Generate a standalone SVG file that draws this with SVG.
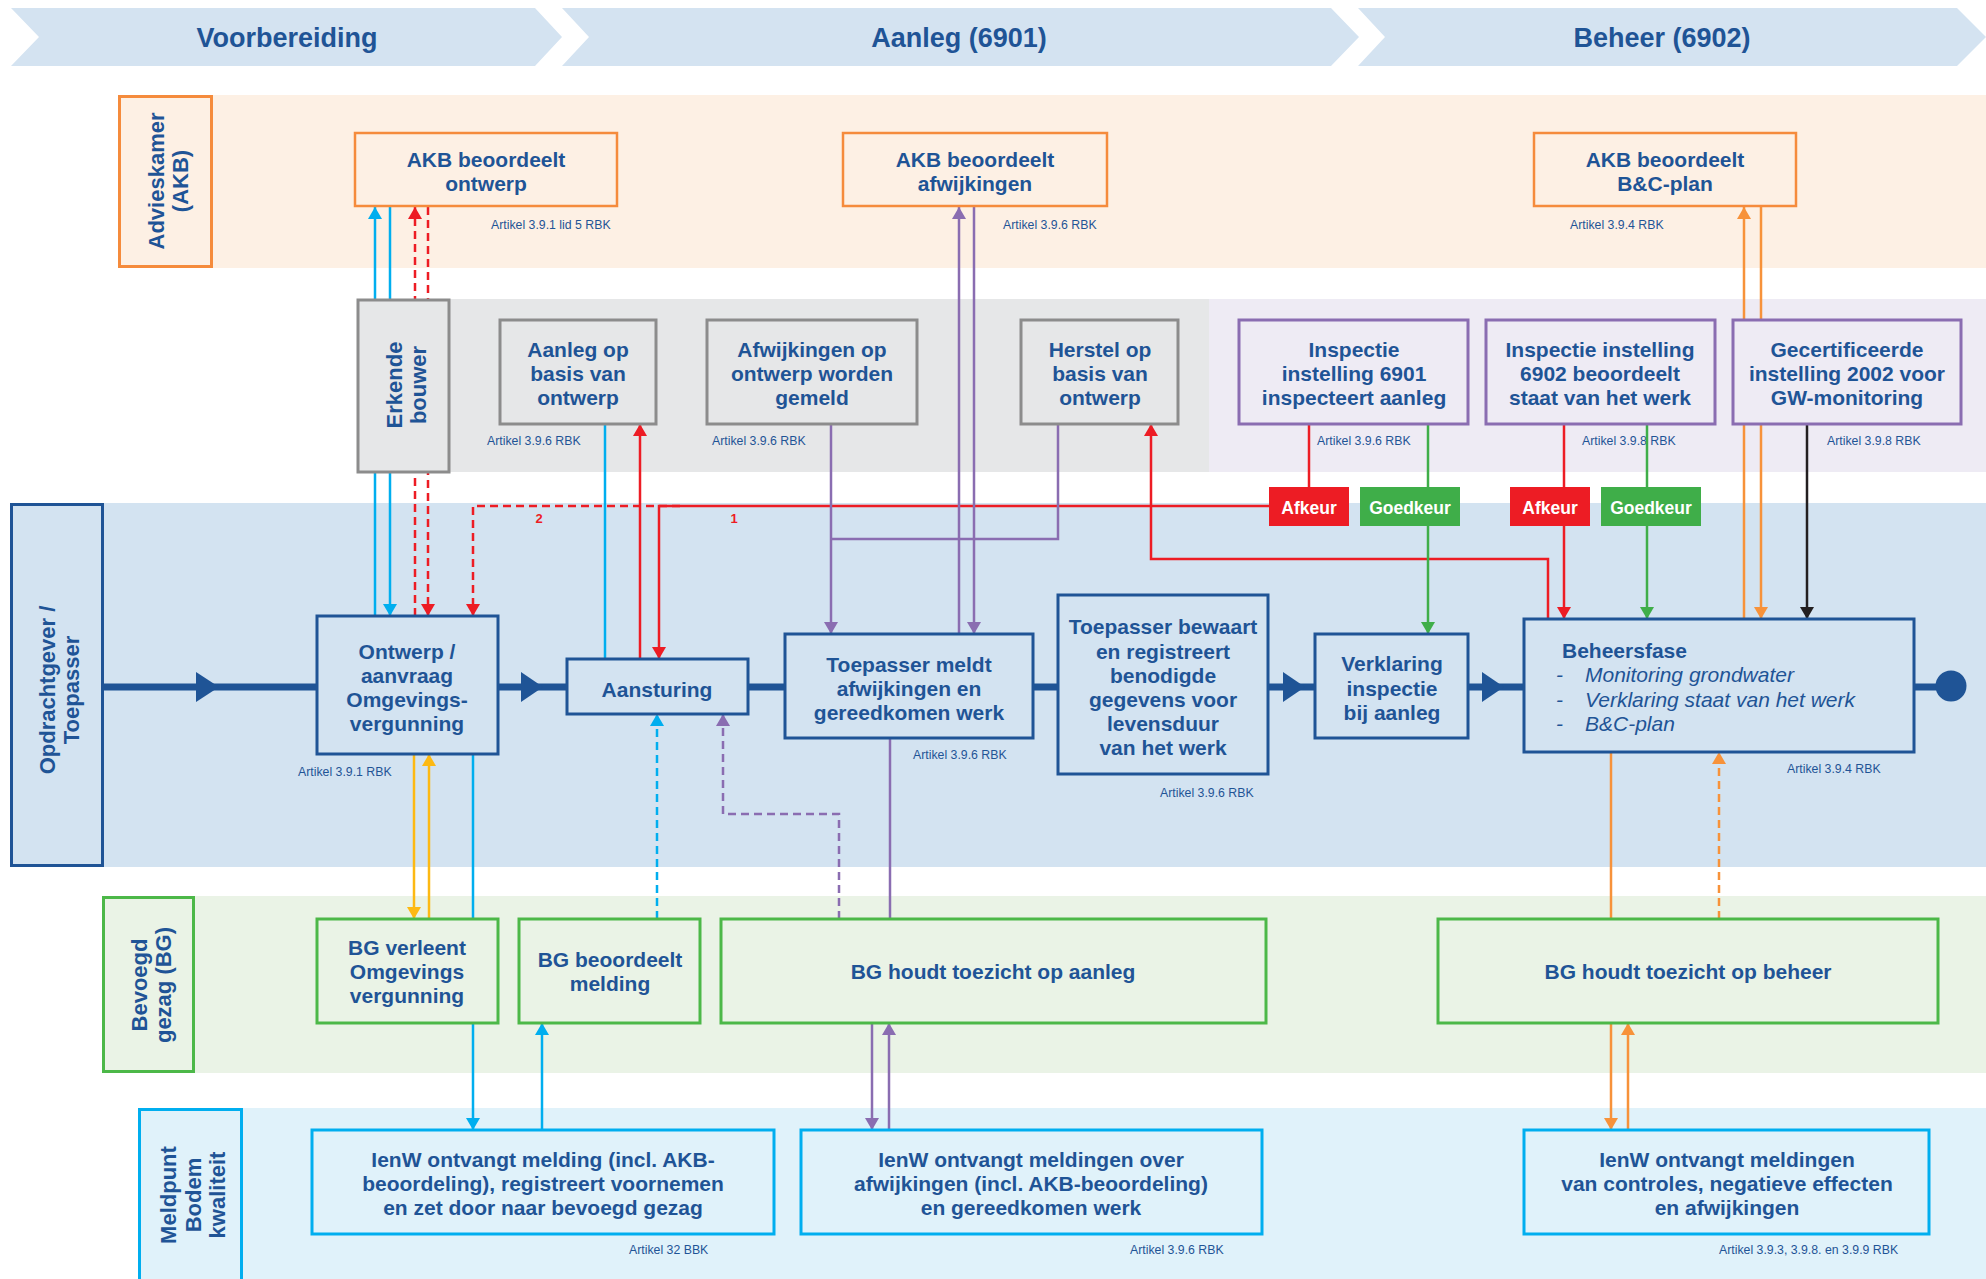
<svg xmlns="http://www.w3.org/2000/svg" width="1986" height="1279" viewBox="0 0 1986 1279">
<defs>
<style>
text{font-family:'Liberation Sans',Arial,sans-serif;fill:#1f5496}
.ph{font-size:27px;font-weight:bold;text-anchor:middle}
.lane{font-size:22px;font-weight:bold;text-anchor:middle}
.t{font-size:21px;font-weight:bold;text-anchor:middle}
.tl{font-size:21px;font-weight:bold}
.it{font-size:21px;font-style:italic}
.art{font-size:12.3px}
.bt{font-size:17.5px;font-weight:bold;fill:#ffffff;text-anchor:middle}
.num{font-size:13px;font-weight:bold;fill:#ed1c24;text-anchor:middle}
.c{fill:none;stroke-width:2.5}
.cy{stroke:#00aeef}
.rd{stroke:#ed1c24}
.pu{stroke:#8a6db1}
.gr{stroke:#3fae49}
.or{stroke:#f7923a}
.ye{stroke:#fdb913}
.bk{stroke:#231f20}
.d{stroke-dasharray:8 5}
.n-akb{fill:#fdf0e4;stroke:#f58b3c;stroke-width:2.5}
.n-gry{fill:#e6e7e8;stroke:#8c8c8c;stroke-width:3}
.n-lav{fill:#eeebf4;stroke:#8a6db1;stroke-width:3}
.n-main{fill:#d3e3f1;stroke:#1f5496;stroke-width:3}
.n-bg{fill:#eaf3e6;stroke:#4cb848;stroke-width:3}
.n-mp{fill:#e0f2fa;stroke:#00aeef;stroke-width:3}
</style>
<marker id="mc" markerUnits="userSpaceOnUse" markerWidth="12" markerHeight="14" viewBox="0 0 12 14" refX="12" refY="7" orient="auto"><path d="M0,0L12,7L0,14z" fill="#00aeef"/></marker>
<marker id="mr" markerUnits="userSpaceOnUse" markerWidth="12" markerHeight="14" viewBox="0 0 12 14" refX="12" refY="7" orient="auto"><path d="M0,0L12,7L0,14z" fill="#ed1c24"/></marker>
<marker id="mp" markerUnits="userSpaceOnUse" markerWidth="12" markerHeight="14" viewBox="0 0 12 14" refX="12" refY="7" orient="auto"><path d="M0,0L12,7L0,14z" fill="#8a6db1"/></marker>
<marker id="mg" markerUnits="userSpaceOnUse" markerWidth="12" markerHeight="14" viewBox="0 0 12 14" refX="12" refY="7" orient="auto"><path d="M0,0L12,7L0,14z" fill="#3fae49"/></marker>
<marker id="mo" markerUnits="userSpaceOnUse" markerWidth="12" markerHeight="14" viewBox="0 0 12 14" refX="12" refY="7" orient="auto"><path d="M0,0L12,7L0,14z" fill="#f7923a"/></marker>
<marker id="my" markerUnits="userSpaceOnUse" markerWidth="12" markerHeight="14" viewBox="0 0 12 14" refX="12" refY="7" orient="auto"><path d="M0,0L12,7L0,14z" fill="#fdb913"/></marker>
<marker id="mk" markerUnits="userSpaceOnUse" markerWidth="12" markerHeight="14" viewBox="0 0 12 14" refX="12" refY="7" orient="auto"><path d="M0,0L12,7L0,14z" fill="#231f20"/></marker>
</defs>

<rect width="1986" height="1279" fill="#ffffff"/>

<g id="phases">
<polygon points="11,8 535,8 562,37 535,66 11,66 39,37" fill="#d4e3f1"/>
<polygon points="562,8 1331,8 1359,37 1331,66 562,66 589,37" fill="#d4e3f1"/>
<polygon points="1358,8 1957,8 1986,37 1957,66 1358,66 1385,37" fill="#d4e3f1"/>
<text class="ph" x="287" y="47">Voorbereiding</text>
<text class="ph" x="959" y="47">Aanleg (6901)</text>
<text class="ph" x="1662" y="47">Beheer (6902)</text>
</g>

<g id="lanes">
<rect x="212" y="95" width="1774" height="173" fill="#fdf0e4"/>
<rect x="357" y="299" width="852" height="173" fill="#e6e7e8"/>
<rect x="1209" y="299" width="777" height="173" fill="#eeebf4"/>
<rect x="103" y="503" width="1883" height="364" fill="#d3e3f1"/>
<rect x="194" y="896" width="1792" height="177" fill="#eaf3e6"/>
<rect x="242" y="1108" width="1744" height="171" fill="#e0f2fa"/>
<rect x="119.5" y="96.5" width="92" height="170" fill="#fdf0e4" stroke="#f58b3c" stroke-width="3"/>
<rect x="11.5" y="504.5" width="91" height="361" fill="#d3e3f1" stroke="#1f5496" stroke-width="3"/>
<rect x="103.5" y="897.5" width="90" height="174" fill="#eaf3e6" stroke="#4cb848" stroke-width="3"/>
<rect x="139.5" y="1109.5" width="102" height="190" fill="#e0f2fa" stroke="#00aeef" stroke-width="3"/>
<text class="lane" transform="translate(164,181) rotate(-90)"><tspan x="0" y="0">Advieskamer</tspan><tspan x="0" y="24">(AKB)</tspan></text>
<text class="lane" transform="translate(55,690) rotate(-90)"><tspan x="0" y="0">Opdrachtgever /</tspan><tspan x="0" y="24">Toepasser</tspan></text>
<text class="lane" transform="translate(147,985) rotate(-90)"><tspan x="0" y="0">Bevoegd</tspan><tspan x="0" y="24">gezag (BG)</tspan></text>
<text class="lane" transform="translate(176,1195) rotate(-90)"><tspan x="0" y="0">Meldpunt</tspan><tspan x="0" y="24.5">Bodem</tspan><tspan x="0" y="49">kwaliteit</tspan></text>
</g>

<g id="articles">
<text class="art" x="491" y="229">Artikel 3.9.1 lid 5 RBK</text>
<text class="art" x="1003" y="229">Artikel 3.9.6 RBK</text>
<text class="art" x="1570" y="229">Artikel 3.9.4 RBK</text>
<text class="art" x="487" y="445">Artikel 3.9.6 RBK</text>
<text class="art" x="712" y="445">Artikel 3.9.6 RBK</text>
<text class="art" x="1317" y="445">Artikel 3.9.6 RBK</text>
<text class="art" x="1582" y="445">Artikel 3.9.8 RBK</text>
<text class="art" x="1827" y="445">Artikel 3.9.8 RBK</text>
<text class="art" x="298" y="776">Artikel 3.9.1 RBK</text>
<text class="art" x="913" y="759">Artikel 3.9.6 RBK</text>
<text class="art" x="1160" y="797">Artikel 3.9.6 RBK</text>
<text class="art" x="1787" y="773">Artikel 3.9.4 RBK</text>
<text class="art" x="629" y="1254">Artikel 32 BBK</text>
<text class="art" x="1130" y="1254">Artikel 3.9.6 RBK</text>
<text class="art" x="1719" y="1254">Artikel 3.9.3, 3.9.8. en 3.9.9 RBK</text>
</g>

<g id="connectors">
<line x1="103" y1="687" x2="1951" y2="687" stroke="#1f5496" stroke-width="7"/>
<polygon points="196,672 219,687 196,702" fill="#1f5496"/>
<polygon points="521,672 543,687 521,702" fill="#1f5496"/>
<polygon points="1283,672 1305,687 1283,702" fill="#1f5496"/>
<polygon points="1482,672 1504,687 1482,702" fill="#1f5496"/>
<circle cx="1951" cy="686" r="15.5" fill="#1f5496"/>
<path class="c cy" d="M375,616V207" marker-end="url(#mc)"/>
<path class="c cy" d="M390,207V616" marker-end="url(#mc)"/>
<path class="c cy" d="M605,424V659"/>
<path class="c cy d" d="M657,919V714" marker-end="url(#mc)"/>
<path class="c cy" d="M473,754V1130" marker-end="url(#mc)"/>
<path class="c cy" d="M542,1130V1023" marker-end="url(#mc)"/>
<path class="c rd d" d="M415,616V207" marker-end="url(#mr)"/>
<path class="c rd d" d="M428,207V616" marker-end="url(#mr)"/>
<path class="c rd" d="M640,659V424" marker-end="url(#mr)"/>
<path class="c rd" d="M1269,506H659V659" marker-end="url(#mr)"/>
<path class="c rd d" d="M680,506H473V616" marker-end="url(#mr)"/>
<path class="c rd" d="M1309,424V487"/>
<path class="c rd" d="M1548,619V559H1151V424" marker-end="url(#mr)"/>
<path class="c rd" d="M1564,424V487"/>
<path class="c rd" d="M1564,526V619" marker-end="url(#mr)"/>
<text class="num" x="539" y="523">2</text>
<text class="num" x="734" y="523">1</text>
<path class="c pu" d="M959,634V207" marker-end="url(#mp)"/>
<path class="c pu" d="M974,207V634" marker-end="url(#mp)"/>
<path class="c pu" d="M831,424V634" marker-end="url(#mp)"/>
<path class="c pu" d="M1058,424V539H831"/>
<path class="c pu d" d="M839,919V814H723V714" marker-end="url(#mp)"/>
<path class="c pu" d="M890,738V919"/>
<path class="c pu" d="M872,1023V1130" marker-end="url(#mp)"/>
<path class="c pu" d="M889,1130V1023" marker-end="url(#mp)"/>
<path class="c gr" d="M1428,424V487"/>
<path class="c gr" d="M1428,526V634" marker-end="url(#mg)"/>
<path class="c gr" d="M1647,424V487"/>
<path class="c gr" d="M1647,526V619" marker-end="url(#mg)"/>
<path class="c or" d="M1744,619V207" marker-end="url(#mo)"/>
<path class="c or" d="M1761,207V619" marker-end="url(#mo)"/>
<path class="c or" d="M1611,752V919"/>
<path class="c or d" d="M1719,919V752" marker-end="url(#mo)"/>
<path class="c or" d="M1611,1023V1130" marker-end="url(#mo)"/>
<path class="c or" d="M1628,1130V1023" marker-end="url(#mo)"/>
<path class="c ye" d="M414,754V919" marker-end="url(#my)"/>
<path class="c ye" d="M429,919V754" marker-end="url(#my)"/>
<path class="c bk" d="M1807,424V619" marker-end="url(#mk)"/>
</g>

<g id="akb-ontwerp"><rect class="n-akb" x="355" y="133" width="262" height="73"/><text class="t"><tspan x="486" y="167">AKB beoordeelt</tspan><tspan x="486" y="191">ontwerp</tspan></text></g>
<g id="akb-afwijkingen"><rect class="n-akb" x="843" y="133" width="264" height="73"/><text class="t"><tspan x="975" y="167">AKB beoordeelt</tspan><tspan x="975" y="191">afwijkingen</tspan></text></g>
<g id="akb-bcplan"><rect class="n-akb" x="1534" y="133" width="262" height="73"/><text class="t"><tspan x="1665" y="167">AKB beoordeelt</tspan><tspan x="1665" y="191">B&amp;C-plan</tspan></text></g>

<g id="erkende-bouwer"><rect class="n-gry" x="358" y="300" width="91" height="172"/><text class="lane" transform="translate(402,385) rotate(-90)"><tspan x="0" y="0">Erkende</tspan><tspan x="0" y="24">bouwer</tspan></text></g>
<g id="aanleg-ontwerp"><rect class="n-gry" x="500" y="320" width="156" height="104"/><text class="t"><tspan x="578" y="357">Aanleg op</tspan><tspan x="578" y="381">basis van</tspan><tspan x="578" y="405">ontwerp</tspan></text></g>
<g id="afwijkingen-gemeld"><rect class="n-gry" x="707" y="320" width="210" height="104"/><text class="t"><tspan x="812" y="357">Afwijkingen op</tspan><tspan x="812" y="381">ontwerp worden</tspan><tspan x="812" y="405">gemeld</tspan></text></g>
<g id="herstel"><rect class="n-gry" x="1021" y="320" width="157" height="104"/><text class="t"><tspan x="1100" y="357">Herstel op</tspan><tspan x="1100" y="381">basis van</tspan><tspan x="1100" y="405">ontwerp</tspan></text></g>
<g id="inspectie-6901"><rect class="n-lav" x="1239" y="320" width="229" height="104"/><text class="t"><tspan x="1354" y="357">Inspectie</tspan><tspan x="1354" y="381">instelling 6901</tspan><tspan x="1354" y="405">inspecteert aanleg</tspan></text></g>
<g id="inspectie-6902"><rect class="n-lav" x="1486" y="320" width="229" height="104"/><text class="t"><tspan x="1600" y="357">Inspectie instelling</tspan><tspan x="1600" y="381">6902 beoordeelt</tspan><tspan x="1600" y="405">staat van het werk</tspan></text></g>
<g id="gecertificeerde"><rect class="n-lav" x="1733" y="320" width="228" height="104"/><text class="t"><tspan x="1847" y="357">Gecertificeerde</tspan><tspan x="1847" y="381">instelling 2002 voor</tspan><tspan x="1847" y="405">GW-monitoring</tspan></text></g>

<g id="afkeur-1"><rect x="1269" y="487" width="80" height="39" fill="#ed1c24"/><text class="bt" x="1309" y="514">Afkeur</text></g>
<g id="goedkeur-1"><rect x="1360" y="487" width="100" height="39" fill="#3fae49"/><text class="bt" x="1410" y="514">Goedkeur</text></g>
<g id="afkeur-2"><rect x="1510" y="487" width="80" height="39" fill="#ed1c24"/><text class="bt" x="1550" y="514">Afkeur</text></g>
<g id="goedkeur-2"><rect x="1601" y="487" width="100" height="39" fill="#3fae49"/><text class="bt" x="1651" y="514">Goedkeur</text></g>

<g id="ontwerp-aanvraag"><rect class="n-main" x="317" y="616" width="181" height="138"/><text class="t"><tspan x="407" y="659">Ontwerp /</tspan><tspan x="407" y="683">aanvraag</tspan><tspan x="407" y="707">Omgevings-</tspan><tspan x="407" y="731">vergunning</tspan></text></g>
<g id="aansturing"><rect class="n-main" x="567" y="659" width="181" height="55"/><text class="t" x="657" y="697">Aansturing</text></g>
<g id="toepasser-meldt"><rect class="n-main" x="785" y="634" width="248" height="104"/><text class="t"><tspan x="909" y="672">Toepasser meldt</tspan><tspan x="909" y="696">afwijkingen en</tspan><tspan x="909" y="720">gereedkomen werk</tspan></text></g>
<g id="toepasser-bewaart"><rect class="n-main" x="1058" y="595" width="210" height="179"/><text class="t"><tspan x="1163" y="634">Toepasser bewaart</tspan><tspan x="1163" y="659">en registreert</tspan><tspan x="1163" y="683">benodigde</tspan><tspan x="1163" y="707">gegevens voor</tspan><tspan x="1163" y="731">levensduur</tspan><tspan x="1163" y="755">van het werk</tspan></text></g>
<g id="verklaring-inspectie"><rect class="n-main" x="1315" y="634" width="153" height="104"/><text class="t"><tspan x="1392" y="671">Verklaring</tspan><tspan x="1392" y="696">inspectie</tspan><tspan x="1392" y="720">bij aanleg</tspan></text></g>
<g id="beheersfase"><rect class="n-main" x="1524" y="619" width="390" height="133"/><text class="tl" x="1562" y="658">Beheersfase</text><text class="it"><tspan x="1556" y="682">-</tspan><tspan x="1585" y="682">Monitoring grondwater</tspan><tspan x="1556" y="707">-</tspan><tspan x="1585" y="707">Verklaring staat van het werk</tspan><tspan x="1556" y="731">-</tspan><tspan x="1585" y="731">B&amp;C-plan</tspan></text></g>

<g id="bg-verleent"><rect class="n-bg" x="317" y="919" width="181" height="104"/><text class="t"><tspan x="407" y="955">BG verleent</tspan><tspan x="407" y="979">Omgevings</tspan><tspan x="407" y="1003">vergunning</tspan></text></g>
<g id="bg-beoordeelt"><rect class="n-bg" x="519" y="919" width="181" height="104"/><text class="t"><tspan x="610" y="967">BG beoordeelt</tspan><tspan x="610" y="991">melding</tspan></text></g>
<g id="bg-aanleg"><rect class="n-bg" x="721" y="919" width="545" height="104"/><text class="t" x="993" y="979">BG houdt toezicht op aanleg</text></g>
<g id="bg-beheer"><rect class="n-bg" x="1438" y="919" width="500" height="104"/><text class="t" x="1688" y="979">BG houdt toezicht op beheer</text></g>

<g id="ienw-melding"><rect class="n-mp" x="312" y="1130" width="462" height="104"/><text class="t"><tspan x="543" y="1167">IenW ontvangt melding (incl. AKB-</tspan><tspan x="543" y="1191">beoordeling), registreert voornemen</tspan><tspan x="543" y="1215">en zet door naar bevoegd gezag</tspan></text></g>
<g id="ienw-afwijkingen"><rect class="n-mp" x="801" y="1130" width="461" height="104"/><text class="t"><tspan x="1031" y="1167">IenW ontvangt meldingen over</tspan><tspan x="1031" y="1191">afwijkingen (incl. AKB-beoordeling)</tspan><tspan x="1031" y="1215">en gereedkomen werk</tspan></text></g>
<g id="ienw-controles"><rect class="n-mp" x="1524" y="1130" width="405" height="104"/><text class="t"><tspan x="1727" y="1167">IenW ontvangt meldingen</tspan><tspan x="1727" y="1191">van controles, negatieve effecten</tspan><tspan x="1727" y="1215">en afwijkingen</tspan></text></g>
</svg>
